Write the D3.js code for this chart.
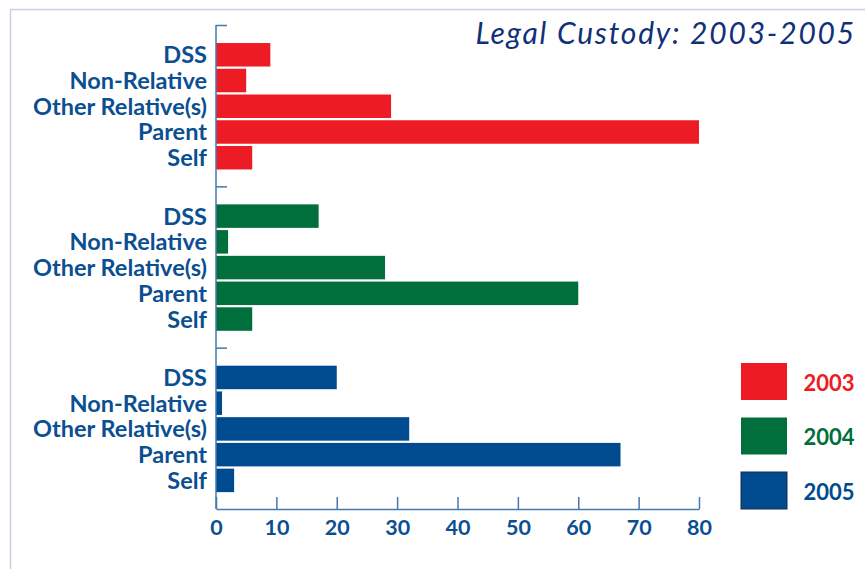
<!DOCTYPE html>
<meta charset="utf-8">
<script src="https://d3js.org/d3.v7.min.js"></script>
<style>
  body { margin: 0; background: #fff; }
  text { font-family: Lato, "Open Sans", sans-serif; }
</style>
<svg id="chart" width="865" height="569"></svg>
<script>

  // Data
  var years = ["2003", "2004", "2005"];
  var categories = ["DSS", "Non-Relative", "Other Relative(s)", "Parent", "Self"];
  var values2003 = [9, 5, 29, 80, 6];
  var values2004 = [17, 2, 28, 60, 6];
  var values2005 = [20, 1, 32, 67, 3];
  var xTicks = [0, 10, 20, 30, 40, 50, 60, 70, 80];
  var colors = ["#ed1c24", "#006f3b", "#004a8f"];

  var series = [values2003, values2004, values2005];

  var svg = d3.select("#chart");
  var labelColor = "#0b4f91";
  var axisColor = "#4677ae";

  // frame lines
  svg.append("path")
      .attr("d", "M10.5,569V9.5H865")
      .attr("fill", "none")
      .attr("stroke", "#c8d0e2")
      .attr("stroke-width", 1.5);

  // scales
  var x = d3.scaleLinear().domain([0, 80]).range([216, 699]);
  var yGroup = d3.scaleBand().domain(years).range([25, 509]);
  var yCat = d3.scaleBand().domain(categories)
      .range([16.9, 145.6]).paddingInner(0.087).paddingOuter(0.044);

  // bars
  var groups = svg.selectAll("g.year")
      .data(years)
      .enter()
      .append("g")
      .attr("class", "year")
      .attr("transform", function(d) { return "translate(0," + yGroup(d) + ")"; });

  groups.each(function(year, i) {
    var g = d3.select(this);
    g.selectAll("rect")
        .data(categories)
        .enter()
        .append("rect")
        .attr("x", x(0))
        .attr("y", function(c) { return yCat(c); })
        .attr("width", function(c, j) { return x(series[i][j]) - x(0); })
        .attr("height", yCat.bandwidth())
        .attr("fill", colors[i]);

    g.selectAll("text")
        .data(categories)
        .enter()
        .append("text")
        .attr("x", 207)
        .attr("y", function(c) { return yCat(c) + yCat.bandwidth() / 2; })
        .attr("dy", "0.36em")
        .attr("text-anchor", "end")
        .attr("font-size", 23.5)
        .attr("font-weight", "bold")
        .attr("fill", labelColor)
        .text(function(c) { return c; });

    // group separator tick
    g.append("line")
        .attr("x1", x(0)).attr("x2", x(0) + 11)
        .attr("y1", 0.5).attr("y2", 0.5)
        .attr("stroke", axisColor)
        .attr("stroke-width", 1.5);
  });

  // y axis line
  svg.append("line")
      .attr("x1", x(0)).attr("x2", x(0))
      .attr("y1", 25).attr("y2", 509)
      .attr("stroke", axisColor)
      .attr("stroke-width", 1.5);

  // x axis
  var xAxis = svg.append("g")
      .attr("transform", "translate(0,509)")
      .call(d3.axisBottom(x).tickValues(xTicks).tickSize(-12).tickPadding(11).tickSizeOuter(0));
  xAxis.select(".domain").attr("stroke", axisColor).attr("stroke-width", 1.5);
  xAxis.selectAll(".tick line").attr("stroke", axisColor).attr("stroke-width", 1.5);
  xAxis.selectAll(".tick text")
      .attr("font-family", "Lato, sans-serif")
      .attr("font-size", 21.5)
      .attr("font-weight", "bold")
      .attr("fill", labelColor);

  // title
  svg.append("text")
      .attr("x", 856)
      .attr("y", 44)
      .attr("text-anchor", "end")
      .attr("font-size", 30)
      .attr("letter-spacing", 1.8)
      .attr("font-style", "italic")
      .attr("fill", "#11307a")
      .text("Legal Custody: 2003-2005");

  // legend
  var legend = svg.selectAll("g.legend")
      .data(years)
      .enter()
      .append("g")
      .attr("class", "legend")
      .attr("transform", function(d, i) { return "translate(741," + (363 + i * 54.5) + ")"; });

  legend.append("rect")
      .attr("width", 46)
      .attr("height", 37)
      .attr("fill", function(d, i) { return colors[i]; })
      .attr("stroke", function(d, i) { return i === 2 ? "#1a2a4a" : "none"; });

  legend.append("text")
      .attr("x", 88)
      .attr("y", 20)
      .attr("dy", "0.36em")
      .attr("text-anchor", "middle")
      .attr("font-size", 22)
      .attr("font-weight", "bold")
      .attr("fill", function(d, i) { return colors[i]; })
      .text(function(d) { return d; });

</script>
